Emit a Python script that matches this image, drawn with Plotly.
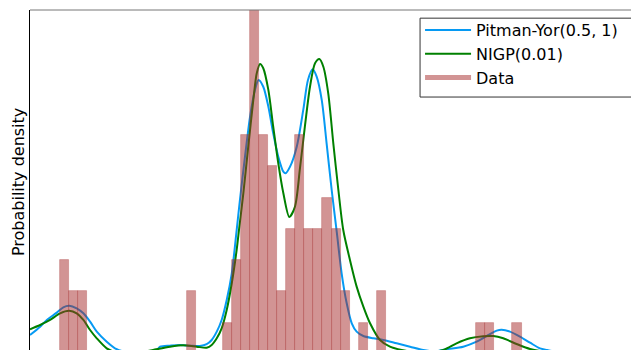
import plotly.graph_objects as go

# ---- Histogram (galaxy velocities, bins of width 0.5) ----
bin_left = [9.0, 9.5, 10.0, 16.0, 18.0, 18.5, 19.0, 19.5, 20.0, 20.5, 21.0, 21.5,
            22.0, 22.5, 23.0, 23.5, 24.0, 24.5, 25.5, 26.5, 32.0, 32.5, 34.0]
bin_count = [3, 2, 2, 2, 1, 3, 7, 11, 7, 6, 2, 4,
             7, 4, 4, 5, 4, 2, 1, 2, 1, 1, 1]
bin_width = 0.5
n_total = 82

# ---- Pitman-Yor(0.5, 1) density curve ----
py_x = [7.34, 7.90, 8.27, 8.82, 9.18, 9.51, 9.92, 10.29, 10.66, 11.03, 11.58, 12.13,
        12.59, 13.42, 13.97, 14.36, 14.53, 15.08, 15.63, 16.18, 16.73, 17.10, 17.38,
        17.66, 17.93, 18.21, 18.49, 18.76, 18.94, 19.22, 19.50, 19.77, 19.97, 20.23,
        20.51, 20.78, 21.06, 21.34, 21.46, 21.71, 22.08, 22.44, 22.70, 22.96, 23.18,
        23.46, 23.73, 24.01, 24.29, 24.56, 24.84, 25.12, 25.39, 25.76, 26.31, 26.86,
        27.60, 28.34, 29.07, 29.72, 30.36, 31.28, 32.02, 32.57, 33.13, 33.40, 33.86,
        34.41, 34.97, 35.52, 35.91, 36.63, 37.73, 41.0]
py_y = [0.0148, 0.0213, 0.0265, 0.0322, 0.0364, 0.0376, 0.0356, 0.0317, 0.0252, 0.0174,
        0.0096, 0.0037, 0.0018, 0.0010, 0.0020, 0.0031, 0.0057, 0.0065, 0.0070, 0.0065,
        0.0062, 0.0076, 0.0109, 0.0174, 0.0265, 0.0421, 0.0629, 0.0966, 0.1200, 0.1538,
        0.1850, 0.2058, 0.2136, 0.2083, 0.1928, 0.1720, 0.1538, 0.1421, 0.1408, 0.1460,
        0.1616, 0.1902, 0.2136, 0.2219, 0.2161, 0.1980, 0.1642, 0.1278, 0.0951, 0.0629,
        0.0395, 0.0239, 0.0174, 0.0140, 0.0122, 0.0109, 0.0083, 0.0057, 0.0031, 0.0020,
        0.0037, 0.0057, 0.0096, 0.0140, 0.0182, 0.0189, 0.0174, 0.0135, 0.0088, 0.0044,
        0.0031, 0.0012, 0.0004, 0.0000]

# ---- NIGP(0.01) density curve ----
ng_x = [7.34, 7.90, 8.45, 9.00, 9.51, 9.92, 10.29, 10.66, 11.03, 11.58, 12.04, 12.87,
        13.70, 14.14, 15.08, 15.81, 16.55, 17.10, 17.38, 17.66, 17.93, 18.21, 18.49,
        18.76, 18.90, 19.13, 19.40, 19.68, 19.87, 20.05, 20.23, 20.51, 20.78, 21.06,
        21.34, 21.67, 21.98, 22.26, 22.54, 22.81, 23.09, 23.33, 23.55, 23.82, 24.10,
        24.38, 24.65, 25.02, 25.39, 25.76, 26.13, 26.68, 27.23, 27.88, 28.89, 30.18,
        30.91, 31.65, 32.39, 32.94, 33.49, 34.23, 34.97, 35.52, 36.63, 41.0]
ng_y = [0.0193, 0.0226, 0.0265, 0.0317, 0.0337, 0.0317, 0.0265, 0.0187, 0.0122, 0.0044,
        0.0016, 0.0004, 0.0019, 0.0031, 0.0057, 0.0068, 0.0057, 0.0049, 0.0070, 0.0122,
        0.0200, 0.0343, 0.0551, 0.0811, 0.0980, 0.1253, 0.1616, 0.1980, 0.2188, 0.2260,
        0.2227, 0.2058, 0.1772, 0.1486, 0.1253, 0.1068, 0.1148, 0.1450, 0.1785, 0.2081,
        0.2266, 0.2299, 0.2239, 0.2032, 0.1642, 0.1278, 0.0966, 0.0733, 0.0525, 0.0369,
        0.0239, 0.0109, 0.0057, 0.0031, 0.0012, 0.0031, 0.0083, 0.0122, 0.0138, 0.0140,
        0.0122, 0.0078, 0.0039, 0.0023, 0.0008, 0.0000]

x_range = [7.34, 40.55]
y_range = [0.0031, 0.2681]

bar_x = [b + bin_width / 2 for b in bin_left]
bar_y = [c / (n_total * bin_width) for c in bin_count]

BLUE = "#069AF3"
GREEN = "#008000"
BAR = "rgba(165,42,42,0.5)"
FONT = "DejaVu Sans"

fig = go.Figure()
fig.add_trace(go.Scatter(x=py_x, y=py_y, mode="lines", name="Pitman-Yor(0.5, 1)",
                         line=dict(color=BLUE, width=2, shape="spline", smoothing=0.8),
                         xaxis="x", yaxis="y"))
fig.add_trace(go.Scatter(x=ng_x, y=ng_y, mode="lines", name="NIGP(0.01)",
                         line=dict(color=GREEN, width=2, shape="spline", smoothing=0.8),
                         xaxis="x", yaxis="y"))
fig.add_trace(go.Scatter(x=[None], y=[None], mode="lines", name="Data",
                         line=dict(color=BAR, width=5), xaxis="x", yaxis="y"))
fig.add_trace(go.Bar(x=bar_x, y=bar_y, width=bin_width, showlegend=False,
                     marker=dict(color=BAR, line=dict(color="rgba(165,42,42,0.35)", width=0.8)),
                     xaxis="x2", yaxis="y2"))

axis_common = dict(showgrid=False, zeroline=False, showticklabels=False, ticks="")
fig.update_layout(
    width=631, height=350,
    margin=dict(l=30, r=0, t=10, b=0, autoexpand=False),
    paper_bgcolor="white", plot_bgcolor="white",
    font=dict(family=FONT, size=16, color="black"),
    bargap=0,
    xaxis=dict(range=x_range, **axis_common),
    yaxis=dict(range=y_range, showline=True, linecolor="black", linewidth=1, **axis_common),
    xaxis2=dict(range=x_range, overlaying="x", visible=False, **axis_common),
    yaxis2=dict(range=y_range, overlaying="y", visible=False, **axis_common),
    legend=dict(x=0.649, y=0.991, xanchor="left", yanchor="top", itemwidth=46,
                bgcolor="rgba(0,0,0,0)", borderwidth=0,
                font=dict(family=FONT, size=16, color="black")),
    shapes=[
        dict(type="line", xref="paper", yref="paper", x0=0, x1=1, y0=1, y1=1,
             line=dict(color="#777", width=1)),
        dict(type="rect", xref="paper", yref="paper", x0=0.649, x1=1.05,
             y0=0.744, y1=0.976, layer="above",
             fillcolor="rgba(255,255,255,0.8)", line=dict(color="#333", width=1)),
    ],
    annotations=[dict(text="Probability density", xref="paper", yref="paper",
                      x=-0.02, y=0.494, xanchor="center", yanchor="middle",
                      textangle=-90, showarrow=False,
                      font=dict(family=FONT, size=16, color="black"))],
)

fig.write_html("out.html", config={"displayModeBar": False},
               post_script="document.body.style.margin='0';document.body.style.overflow='hidden';")
